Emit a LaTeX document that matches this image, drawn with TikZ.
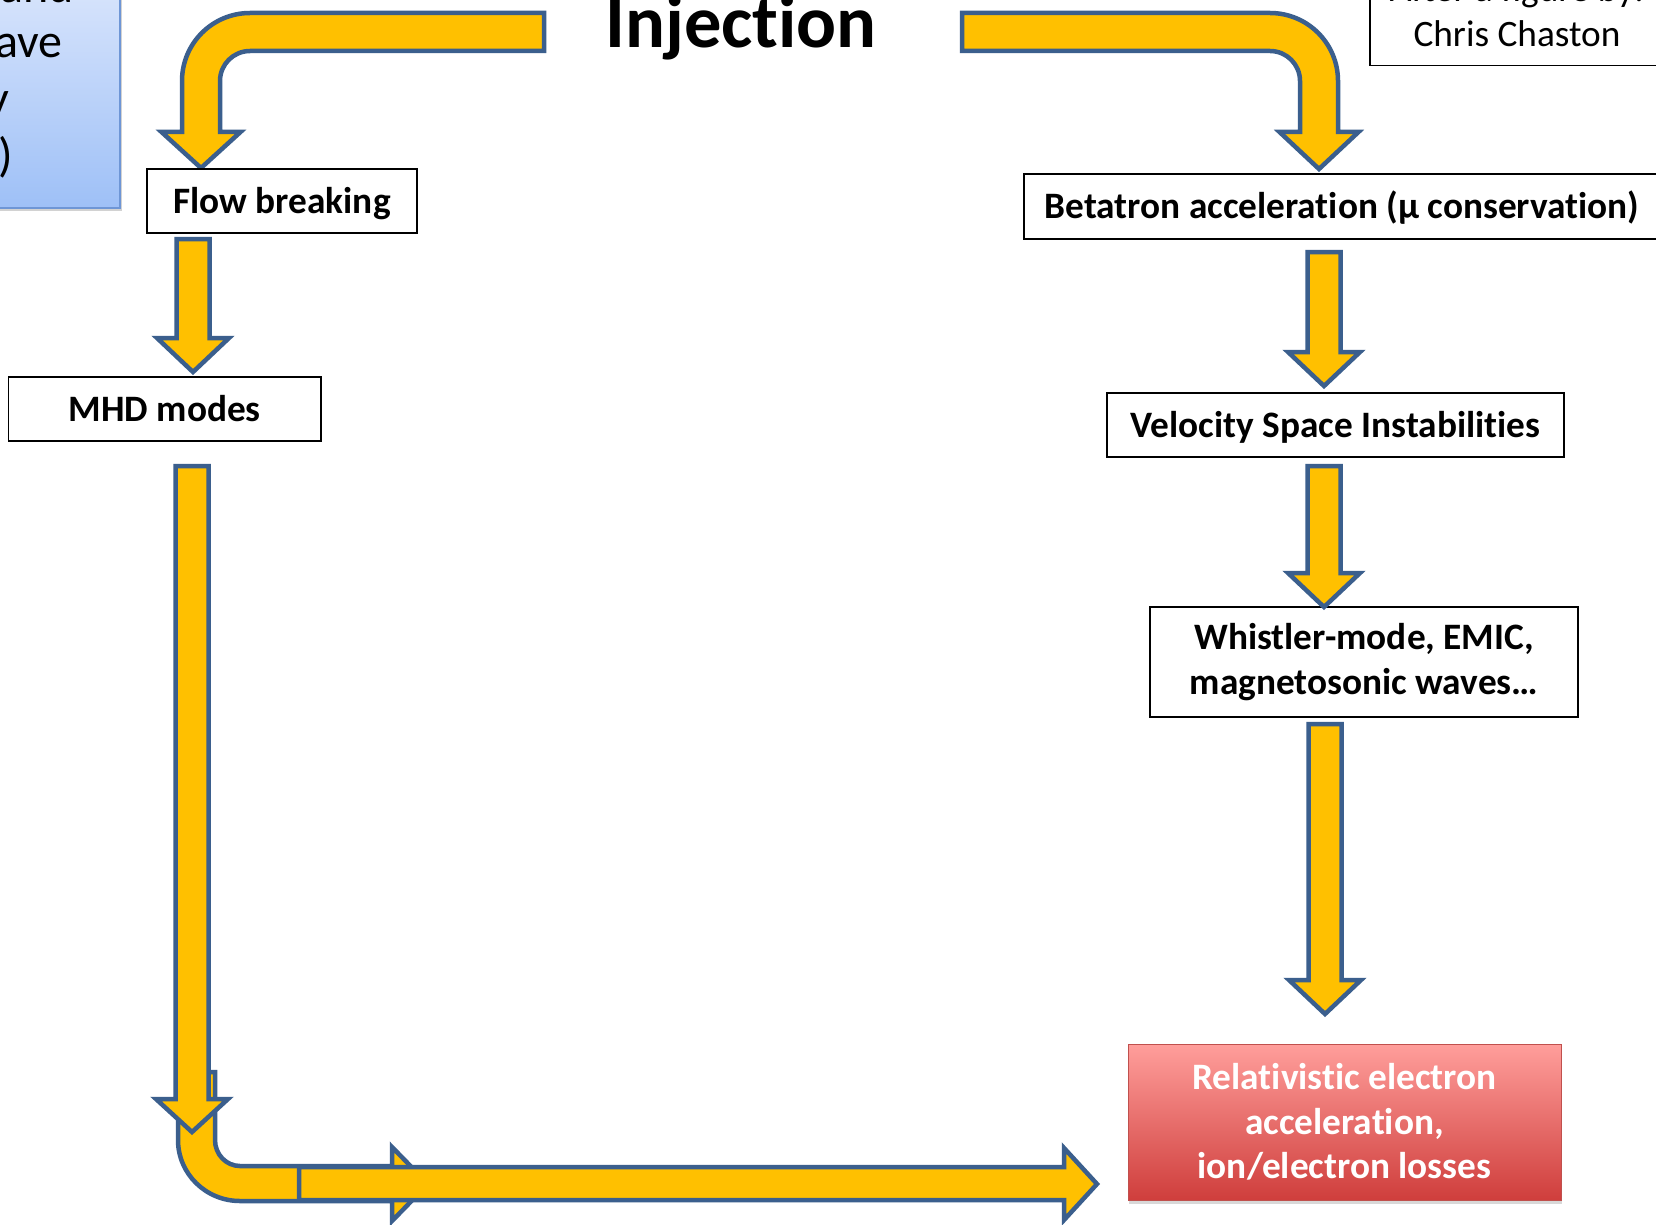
\documentclass[tikz,border=0pt]{standalone}
\usepackage{fontspec}
\setmainfont{Carlito}[Ligatures={NoCommon}]
\usetikzlibrary{shadows}
\definecolor{arrfill}{HTML}{FFC000}
\definecolor{arrline}{HTML}{3B5F8D}
\definecolor{redtop}{HTML}{FF9E9B}
\definecolor{redbot}{HTML}{CF3E3C}
\definecolor{redline}{HTML}{C0504D}
\definecolor{bluetop}{HTML}{DCE7FC}
\definecolor{bluebot}{HTML}{9EC0F7}
\definecolor{blueline}{HTML}{6E96D6}
\tikzset{
  blockarrow/.style={fill=arrfill, draw=arrline, line width=4.5pt, line join=miter},
  labelbox/.style={draw=black, line width=1.8pt, fill=white, inner sep=0pt,
    font=\fontsize{37.3}{45.2}\selectfont\bfseries, align=center},
  oneline/.style={text height=29pt, text depth=5pt},
  bluetext/.style={inner sep=0pt, anchor=base east, font=\fontsize{48}{57}\selectfont},
  credittext/.style={inner sep=0pt, anchor=base, font=\fontsize{37.3}{45}\selectfont},
}
\newcommand\vblockarrow[6]{% x, top, tip, half shaft, half head, head length
  \filldraw[blockarrow] ({#1-#4},#2) -- ({#1+#4},#2) -- ({#1+#4},{#3-#6}) -- ({#1+#5},{#3-#6})
    -- (#1,#3) -- ({#1-#5},{#3-#6}) -- ({#1-#4},{#3-#6}) -- cycle;}
\begin{document}
\begin{tikzpicture}[x=1pt,y=-1pt]
\useasboundingbox (0,0) rectangle (1656,1225);
\clip (0,0) rectangle (1656,1225);
\fill[white] (0,0) rectangle (1656,1225);

% note box (cut off at top-left)
\node[draw=blueline, line width=1.5pt, top color=bluetop, bottom color=bluebot,
  drop shadow={shadow xshift=2pt, shadow yshift=-3pt, opacity=0.35},
  minimum width=440pt, minimum height=240pt, inner sep=0pt] (note) at (-100,88) {};
\node[bluetext] (n1) at (74,3) {and};
\node[bluetext] (n2) at (63,58) {ave};
\node[bluetext] (n3) at (9,115) {y};
\node[bluetext] (n4) at (13,172) {)};

% credit box (cut off at top-right)
\node[draw=black, line width=1.8pt, fill=white, minimum width=294pt, minimum height=130pt,
  inner sep=0pt] (credit) at (1517,0.5) {};
\node[credittext] (c1) at (1517,2) {After a figure by:};
\node[credittext] (c2) at (1517,47) {Chris Chaston};

% title
\node[inner sep=0pt, anchor=base, font=\fontsize{74.5}{85}\selectfont\bfseries] (inj) at (741,47.5) {Injection};

% top bent arrows
\filldraw[blockarrow] (544,13) -- (250,13) .. controls (212.4,13) and (182,43.4) .. (182,81)
  -- (182,132) -- (161.5,132) -- (201,168) -- (240.5,132) -- (220,132) -- (220,81)
  .. controls (220,64.4) and (233.4,51) .. (250,51) -- (544,51) -- cycle;
\filldraw[blockarrow] (962,13) -- (1270,13) .. controls (1307.6,13) and (1338,43.4) .. (1338,81)
  -- (1338,132) -- (1358.5,132) -- (1319,169) -- (1279.5,132) -- (1300,132) -- (1300,81)
  .. controls (1300,64.4) and (1286.6,51) .. (1270,51) -- (962,51) -- cycle;

% boxes
\node[labelbox, oneline, minimum width=270pt, minimum height=64pt] (flow) at (282,201) {Flow breaking};
\node[labelbox, oneline, minimum width=312.6pt, minimum height=64pt] (mhd) at (164.7,409) {MHD modes};
\node[labelbox, oneline, minimum width=636pt, minimum height=65pt] (beta) at (1342,206.5) {Betatron acceleration (μ conservation)};
\node[labelbox, oneline, minimum width=457pt, minimum height=64pt] (vsi) at (1335.5,425) {Velocity Space Instabilities};
\node[labelbox, minimum width=428pt, minimum height=110pt] (waves) at (1364,662) {Whistler-mode, EMIC,\\magnetosonic waves…};
\node[draw=redline, line width=1pt, top color=redtop, bottom color=redbot, text=white,
  drop shadow={shadow xshift=1pt, shadow yshift=-4pt, opacity=0.3},
  inner sep=0pt, align=center, font=\fontsize{37.3}{44.6}\selectfont\bfseries,
  minimum width=433pt, minimum height=156pt] (result) at (1344.5,1122)
  {Relativistic electron\\acceleration,\\ion/electron losses};

% straight down arrows
\vblockarrow{193}{239}{372}{16.5}{36}{34}
\vblockarrow{1324}{252}{386}{16.5}{36}{34}
\vblockarrow{1324}{466}{607}{16.5}{36}{34}
\vblockarrow{1325}{724}{1014}{16.5}{36}{34}

% bottom-left bent arrow (mostly hidden)
\filldraw[blockarrow] (178,1072) -- (178,1140) .. controls (178,1173.7) and (205.8,1201) .. (240,1201)
  -- (392,1201) -- (392,1221) -- (428,1184) -- (392,1147) -- (392,1166) -- (240,1166)
  .. controls (226.2,1166) and (215,1154.4) .. (215,1140) -- (215,1072) -- cycle;
% long left down arrow
\vblockarrow{192}{466}{1132}{16.5}{36}{33}
% long horizontal arrow
\filldraw[blockarrow] (299,1167) -- (1064,1167) -- (1064,1148) -- (1097,1184) -- (1064,1220)
  -- (1064,1200) -- (299,1200) -- cycle;
\end{tikzpicture}
\end{document}
